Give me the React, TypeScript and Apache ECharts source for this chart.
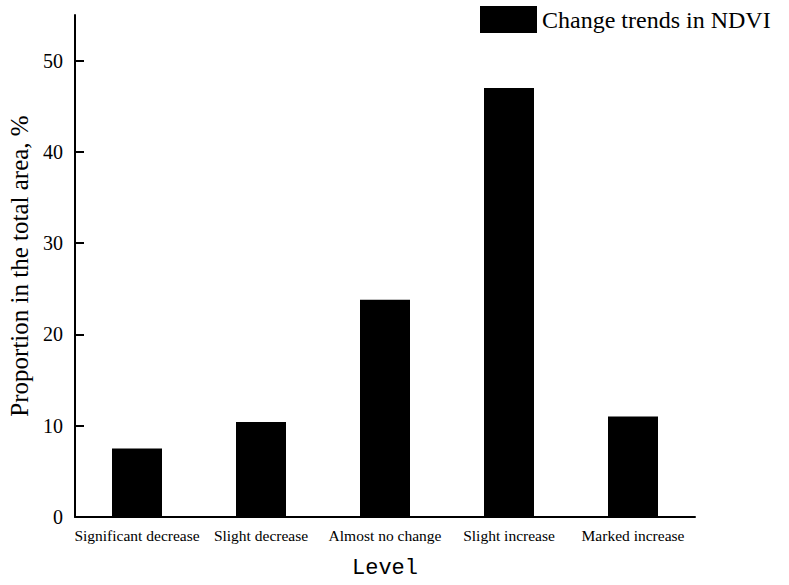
import React, { useEffect, useRef } from "react";
import * as echarts from "echarts";

const categories = ["Significant decrease", "Slight decrease", "Almost no change", "Slight increase", "Marked increase"];
const values = [7.5, 10.4, 23.8, 47.0, 11.0];
const yTicks = [0, 10, 20, 30, 40, 50];
const seriesName = "Change trends in NDVI";

export default function App() {
  const ref = useRef<HTMLDivElement>(null);
  useEffect(() => {
    const chart = echarts.init(ref.current!, null, { renderer: "svg" });
    const serif = "'Liberation Serif', 'Times New Roman', serif";
    chart.setOption({
      animation: false,
      backgroundColor: "#ffffff",
      legend: {
        left: 475,
        top: 1,
        itemWidth: 57,
        itemHeight: 27,
        itemGap: 6,
        icon: "rect",
        textStyle: { fontFamily: serif, fontSize: 24, color: "#000" },
        data: [seriesName],
      },
      grid: { left: 75, right: 94, top: 15, bottom: 68, outerBoundsMode: "none", containLabel: false },
      xAxis: {
        type: "category",
        data: categories,
        name: "Level",
        nameLocation: "middle",
        nameGap: 40,
        nameTextStyle: { fontFamily: "'Liberation Mono', monospace", fontSize: 22, color: "#000" },
        axisLine: { lineStyle: { color: "#000", width: 2 } },
        axisTick: { show: false },
        axisLabel: { fontFamily: serif, fontSize: 15.5, color: "#000", margin: 10, interval: 0 },
      },
      yAxis: {
        type: "value",
        min: 0,
        max: 55,
        interval: 10,
        name: "Proportion in the total area, %",
        nameLocation: "middle",
        nameGap: 40,
        nameTextStyle: { fontFamily: serif, fontSize: 25, color: "#000" },
        axisLine: { show: true, lineStyle: { color: "#000", width: 2 } },
        axisTick: { show: true, inside: true, length: 9, customValues: yTicks, lineStyle: { color: "#000", width: 2 } },
        axisLabel: { fontFamily: serif, fontSize: 20, color: "#000", margin: 12, customValues: yTicks },
        splitLine: { show: false },
      },
      series: [
        {
          name: seriesName,
          type: "bar",
          data: values,
          barWidth: 50,
          itemStyle: { color: "#000" },
        },
      ],
    });
    return () => chart.dispose();
  }, []);
  return <div ref={ref} style={{ width: 789, height: 585, position: "absolute", left: 0, top: 0 }} />;
}
